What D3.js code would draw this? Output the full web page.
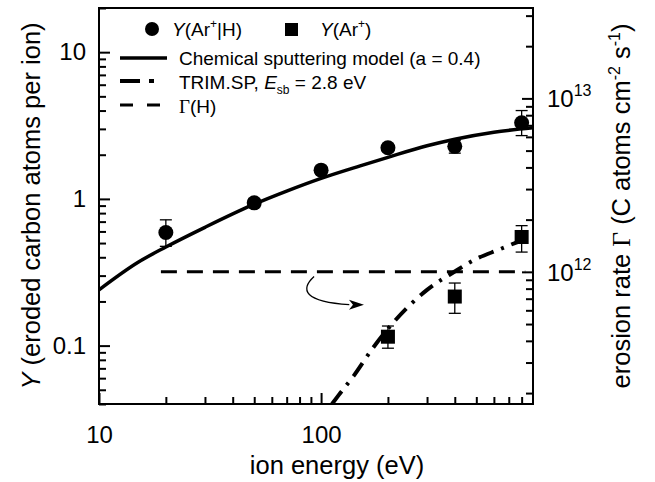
<!DOCTYPE html>
<html>
<head>
<meta charset="utf-8">
<script src="https://cdn.jsdelivr.net/npm/d3@7"></script>
<style>
  body { margin: 0; background: #fff; }
  svg { font-family: Arial, "Liberation Sans", sans-serif; }
</style>
</head>
<body>
<svg id="chart" width="655" height="482"></svg>
<script>
// measured yields Y(Ar+|H)
const energyArH = [20, 50, 100, 200, 400, 800];
const yieldArH = [0.59, 0.94, 1.57, 2.23, 2.28, 3.3];
const yieldArHLo = [0.475, 0.88, 1.48, 2.1, 2.05, 2.7];
const yieldArHHi = [0.72, 1.0, 1.66, 2.36, 2.5, 4.0];

// measured yields Y(Ar+)
const energyAr = [200, 400, 800];
const yieldAr = [0.115, 0.216, 0.55];
const yieldArLo = [0.096, 0.166, 0.434];
const yieldArHi = [0.136, 0.267, 0.657];

// chemical sputtering model (a = 0.4)
const modelEnergy = [10, 15, 20, 30, 50, 70, 100, 150, 200, 300, 400, 600, 900];
const modelYield = [0.24, 0.37, 0.47, 0.64, 0.92, 1.13, 1.38, 1.68, 1.92, 2.3, 2.55, 2.85, 3.05];

// TRIM.SP, Esb = 2.8 eV
const trimEnergy = [112, 120, 140, 170, 210, 300, 400, 500, 630, 800, 900];
const trimYield = [0.04, 0.046, 0.062, 0.095, 0.142, 0.24, 0.32, 0.39, 0.45, 0.52, 0.55];

// erosion rate Gamma(H), right axis
const gammaEnergy = [19, 830];
const gammaRate = [1e12, 1e12];

// curved arrow pointing at the right axis (data coords)
const arrowPts = [[93, 0.296], [80, 0.24], [84, 0.199], [134, 0.19]];
const arrowTip = [156, 0.19];

const xMajor = [10, 100];
const xMinor = [20, 30, 40, 50, 60, 70, 80, 90, 200, 300, 400, 500, 600, 700, 800];
const yMajor = [0.1, 1, 10];
const yMinor = [0.04, 0.05, 0.06, 0.07, 0.08, 0.09, 0.2, 0.3, 0.4, 0.5, 0.6, 0.7, 0.8, 0.9,
                2, 3, 4, 5, 6, 7, 8, 9, 20];
const rMajor = [1e12, 1e13];
const rMinor = [2e11, 3e11, 4e11, 5e11, 6e11, 7e11, 8e11, 9e11,
                2e12, 3e12, 4e12, 5e12, 6e12, 7e12, 8e12, 9e12, 2e13, 3e13];

const margin = {left: 99, right: 533, top: 8, bottom: 404};

const svg = d3.select("#chart");

const x = d3.scaleLog().domain([10, 900]).range([margin.left, margin.right]);
const y = d3.scaleLog().domain([0.04, 20]).range([margin.bottom, margin.top]);
const yR = d3.scaleLog().domain([1.73e11, 3.32e13]).range([margin.bottom, margin.top]);

// axes
const fs = 24;      // tick labels
const tfs = 25.5;   // axis titles
function styleAxis(g) {
    g.select(".domain").remove();
    g.selectAll("line").attr("stroke", "black").attr("stroke-width", 2);
    g.selectAll("text").attr("font-size", fs).attr("fill", "black");
}

svg.append("g")
    .attr("transform", `translate(0,${margin.bottom})`)
    .call(d3.axisBottom(x).tickValues(xMajor).tickFormat(d3.format("d")).tickSize(-11).tickPadding(22))
    .call(styleAxis);
svg.append("g")
    .attr("transform", `translate(0,${margin.bottom})`)
    .call(d3.axisBottom(x).tickValues(xMinor).tickFormat("").tickSize(-7))
    .call(styleAxis);

svg.append("g")
    .attr("transform", `translate(${margin.left},0)`)
    .call(d3.axisLeft(y).tickValues(yMajor).tickFormat(d => d < 1 ? "0.1" : d3.format("d")(d)).tickSize(-11).tickPadding(13))
    .call(styleAxis);
svg.append("g")
    .attr("transform", `translate(${margin.left},0)`)
    .call(d3.axisLeft(y).tickValues(yMinor).tickFormat("").tickSize(-7))
    .call(styleAxis);

svg.append("g")
    .attr("transform", `translate(${margin.right},0)`)
    .call(d3.axisRight(yR).tickValues(rMajor).tickFormat("").tickSize(-11))
    .call(styleAxis);
svg.append("g")
    .attr("transform", `translate(${margin.right},0)`)
    .call(d3.axisRight(yR).tickValues(rMinor).tickFormat("").tickSize(-7))
    .call(styleAxis);

// right axis labels as 10^n
rMajor.forEach(function(v) {
    let t = svg.append("text")
        .attr("x", margin.right + 14)
        .attr("y", yR(v) + 9)
        .attr("font-size", fs);
    t.append("tspan").text("10");
    t.append("tspan").attr("dy", -11).attr("font-size", 16).text(Math.round(Math.log10(v)));
});

// frame
svg.append("rect")
    .attr("x", margin.left).attr("y", margin.top)
    .attr("width", margin.right - margin.left)
    .attr("height", margin.bottom - margin.top)
    .attr("fill", "none").attr("stroke", "black").attr("stroke-width", 2);

// axis titles
svg.append("text")
    .attr("x", 337)
    .attr("y", 474)
    .attr("text-anchor", "middle")
    .attr("font-size", tfs)
    .text("ion energy (eV)");

let yt = svg.append("text")
    .attr("transform", `translate(40,${(margin.top + margin.bottom) / 2}) rotate(-90)`)
    .attr("text-anchor", "middle")
    .attr("font-size", tfs);
yt.append("tspan").attr("font-style", "italic").text("Y");
yt.append("tspan").text(" (eroded carbon atoms per ion)");

let rt = svg.append("text")
    .attr("transform", `translate(630,${(margin.top + margin.bottom) / 2}) rotate(-90)`)
    .attr("text-anchor", "middle")
    .attr("font-size", tfs);
rt.append("tspan").text("erosion rate ");
rt.append("tspan").attr("font-family", "'Liberation Serif', 'DejaVu Serif', serif").text("Γ");
rt.append("tspan").text(" (C atoms cm");
rt.append("tspan").attr("dy", -10).attr("font-size", 16).text("-2");
rt.append("tspan").attr("dy", 10).text(" s");
rt.append("tspan").attr("dy", -10).attr("font-size", 16).text("-1");
rt.append("tspan").attr("dy", 10).text(")");

// clip for curves
svg.append("clipPath").attr("id", "plotClip")
    .append("rect")
    .attr("x", margin.left).attr("y", margin.top)
    .attr("width", margin.right - margin.left)
    .attr("height", margin.bottom - margin.top);

let plot = svg.append("g").attr("clip-path", "url(#plotClip)");

const line = d3.line().curve(d3.curveMonotoneX);

plot.append("path")
    .attr("d", line(modelEnergy.map((e, i) => [x(e), y(modelYield[i])])))
    .attr("fill", "none").attr("stroke", "black").attr("stroke-width", 3.5);

plot.append("path")
    .attr("d", line(trimEnergy.map((e, i) => [x(e), y(trimYield[i])])))
    .attr("fill", "none").attr("stroke", "black").attr("stroke-width", 4)
    .attr("stroke-dasharray", "16,8,3,8");

plot.append("path")
    .attr("d", d3.line()(gammaEnergy.map((e, i) => [x(e), yR(gammaRate[i])])))
    .attr("fill", "none").attr("stroke", "black").attr("stroke-width", 3)
    .attr("stroke-dasharray", "16,10");

// arrow
let ap = arrowPts.map(p => [x(p[0]), y(p[1])]);
plot.append("path")
    .attr("d", `M${ap[0]}C${ap[1]} ${ap[2]} ${ap[3]}`)
    .attr("fill", "none").attr("stroke", "black").attr("stroke-width", 1.3);
let tip = [x(arrowTip[0]), y(arrowTip[1])];
plot.append("path")
    .attr("d", `M${tip[0]},${tip[1]}L${tip[0] - 15},${tip[1] - 5}L${tip[0] - 11},${tip[1]}L${tip[0] - 15},${tip[1] + 5}Z`)
    .attr("fill", "black");

// error bars
function errorBars(xs, lo, hi) {
    let g = svg.append("g").attr("stroke", "black").attr("stroke-width", 1.3);
    xs.forEach(function(e, i) {
        let cx = x(e);
        g.append("line").attr("x1", cx).attr("x2", cx).attr("y1", y(lo[i])).attr("y2", y(hi[i]));
        g.append("line").attr("x1", cx - 6).attr("x2", cx + 6).attr("y1", y(lo[i])).attr("y2", y(lo[i]));
        g.append("line").attr("x1", cx - 6).attr("x2", cx + 6).attr("y1", y(hi[i])).attr("y2", y(hi[i]));
    });
}
errorBars(energyArH, yieldArHLo, yieldArHHi);
errorBars(energyAr, yieldArLo, yieldArHi);

svg.append("g").selectAll("circle")
    .data(energyArH)
    .enter()
    .append("circle")
    .attr("cx", d => x(d))
    .attr("cy", (d, i) => y(yieldArH[i]))
    .attr("r", 7.5)
    .attr("fill", "black");

svg.append("g").selectAll("rect")
    .data(energyAr)
    .enter()
    .append("rect")
    .attr("x", d => x(d) - 7)
    .attr("y", (d, i) => y(yieldAr[i]) - 7)
    .attr("width", 14)
    .attr("height", 14)
    .attr("fill", "black");

// legend
const lfs = 19;
let lg = svg.append("g");

lg.append("circle").attr("cx", 152).attr("cy", 29).attr("r", 7).attr("fill", "black");
let t1 = lg.append("text").attr("x", 172).attr("y", 36).attr("font-size", lfs);
t1.append("tspan").attr("font-style", "italic").text("Y");
t1.append("tspan").text("(Ar");
t1.append("tspan").attr("dy", -8).attr("font-size", 12).text("+");
t1.append("tspan").attr("dy", 8).text("|H)");

lg.append("rect").attr("x", 285).attr("y", 23).attr("width", 13).attr("height", 13).attr("fill", "black");
let t2 = lg.append("text").attr("x", 320).attr("y", 36).attr("font-size", lfs);
t2.append("tspan").attr("font-style", "italic").text("Y");
t2.append("tspan").text("(Ar");
t2.append("tspan").attr("dy", -8).attr("font-size", 12).text("+");
t2.append("tspan").attr("dy", 8).text(")");

lg.append("line").attr("x1", 120).attr("x2", 167).attr("y1", 58).attr("y2", 58)
    .attr("stroke", "black").attr("stroke-width", 3.5);
lg.append("text").attr("x", 179).attr("y", 65).attr("font-size", lfs)
    .text("Chemical sputtering model (a = 0.4)");

lg.append("line").attr("x1", 120).attr("x2", 160).attr("y1", 81).attr("y2", 81)
    .attr("stroke", "black").attr("stroke-width", 4)
    .attr("stroke-dasharray", "20,9,5,20");
let t3 = lg.append("text").attr("x", 179).attr("y", 89).attr("font-size", lfs);
t3.append("tspan").text("TRIM.SP, ");
t3.append("tspan").attr("font-style", "italic").text("E");
t3.append("tspan").attr("dy", 5).attr("font-size", 12).text("sb");
t3.append("tspan").attr("dy", -5).text(" = 2.8 eV");

lg.append("line").attr("x1", 120).attr("x2", 160).attr("y1", 105).attr("y2", 105)
    .attr("stroke", "black").attr("stroke-width", 3)
    .attr("stroke-dasharray", "13,14");
let t4 = lg.append("text").attr("x", 179).attr("y", 113).attr("font-size", lfs);
t4.append("tspan").attr("font-family", "'Liberation Serif', 'DejaVu Serif', serif").text("Γ");
t4.append("tspan").text("(H)");
</script>
</body>
</html>
